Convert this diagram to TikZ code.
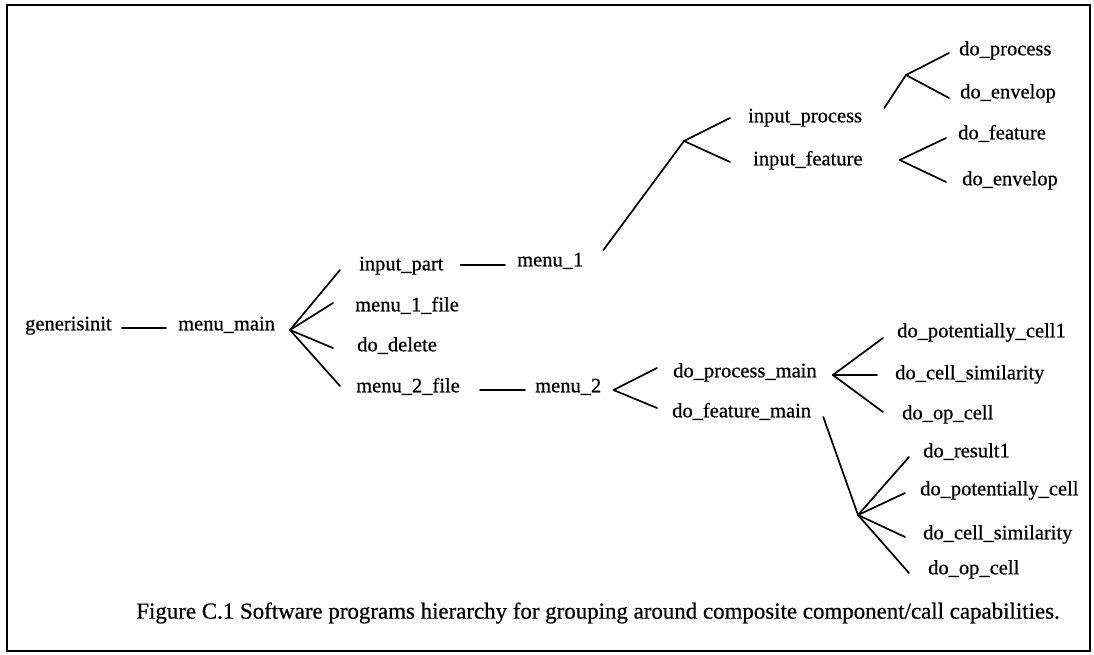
\documentclass[tikz,border=0pt]{standalone}
\usepackage{fontspec}
\setmainfont{Liberation Serif}
\newfontfamily\scanfont[FakeBold=0.6]{Liberation Serif}
\usepackage{tikz}
\usetikzlibrary{positioning}

\begin{document}
\begin{tikzpicture}[
    x=1pt, y=-1pt,
    prog/.style={anchor=west, inner sep=0pt, font=\scanfont\fontsize{20.5}{22}\selectfont,
        text height=0.68em, text depth=0.22em},
    link/.style={line width=1.7pt, line cap=round},
    caption/.style={font=\scanfont\fontsize{22.9}{25}\selectfont, inner sep=0pt}
]
    \useasboundingbox (0,0) rectangle (1094,654);
    \draw[line width=1.7pt] (7,5) rectangle (1090,651);

    % top level
    \node[prog] (generisinit) at (25,328) {generisinit};
    \node[prog] (menumain) at (178,328) {menu\_main};

    \node[prog] (inputpart) at (359,268) {input\_part};
    \node[prog] (menu1file) at (355,309) {menu\_1\_file};
    \node[prog] (dodelete) at (357,349) {do\_delete};
    \node[prog] (menu2file) at (356,390) {menu\_2\_file};

    \node[prog] (menu1) at (517,264) {menu\_1};
    \node[prog] (menu2) at (535,390) {menu\_2};

    % menu_1 branch
    \node[prog] (inputprocess) at (748,120) {input\_process};
    \node[prog] (inputfeature) at (753,163) {input\_feature};
    \node[prog] (doprocess) at (959,53) {do\_process};
    \node[prog] (doenvelopA) at (960,96) {do\_envelop};
    \node[prog] (dofeature) at (958,137) {do\_feature};
    \node[prog] (doenvelopB) at (962,183) {do\_envelop};

    % menu_2 branch
    \node[prog] (doprocessmain) at (673,375) {do\_process\_main};
    \node[prog] (dofeaturemain) at (672,415) {do\_feature\_main};
    \node[prog] (dopotcellA) at (897,335) {do\_potentially\_cell1};
    \node[prog] (docellsimA) at (895,377) {do\_cell\_similarity};
    \node[prog] (doopcellA) at (902,417) {do\_op\_cell};
    \node[prog] (doresult) at (923,455) {do\_result1};
    \node[prog] (dopotcellB) at (920,493) {do\_potentially\_cell};
    \node[prog] (docellsimB) at (923,537) {do\_cell\_similarity};
    \node[prog] (doopcellB) at (928,572) {do\_op\_cell};

    \node[caption] (figcaption) at (598,613)
        {Figure C.1 Software programs hierarchy for grouping around composite component/call capabilities.};

    % fork points
    \coordinate (forkmain) at (290,330);
    \coordinate (forkone) at (684,141);
    \coordinate (forkproc) at (906,75);
    \coordinate (forkfeat) at ([shift={(37,-3)}]inputfeature.east);
    \coordinate (forktwo) at ([xshift=12pt]menu2.east);
    \coordinate (forkpm) at ([xshift=16pt]doprocessmain.east);
    \coordinate (forkfm) at (858,515);

    \draw[link] ([xshift=10pt]generisinit.east) -- ([xshift=-12pt]menumain.west);
    \draw[link] (forkmain) -- ([shift={(-19,2)}]inputpart.west);
    \draw[link] (forkmain) -- ([shift={(-22,-6)}]menu1file.west);
    \draw[link] (forkmain) -- ([shift={(-24,-1)}]dodelete.west);
    \draw[link] (forkmain) -- ([shift={(-16,-4)}]menu2file.west);

    \draw[link] ([shift={(17,-3)}]inputpart.east) -- ([shift={(-12,1)}]menu1.west);
    \draw[link] ([shift={(20,-14)}]menu1.east) -- (forkone);
    \draw[link] (forkone) -- ([shift={(-18,-2)}]inputprocess.west);
    \draw[link] (forkone) -- ([shift={(-23,-1)}]inputfeature.west);
    \draw[link] ([shift={(22,-12)}]inputprocess.east) -- (forkproc);
    \draw[link] (forkproc) -- ([xshift=-10pt]doprocess.west);
    \draw[link] (forkproc) -- ([shift={(-11,2)}]doenvelopA.west);
    \draw[link] (forkfeat) -- ([shift={(-12,1)}]dofeature.west);
    \draw[link] (forkfeat) -- ([shift={(-16,-1)}]doenvelopB.west);

    \draw[link] ([xshift=20pt]menu2file.east) -- ([xshift=-10pt]menu2.west);
    \draw[link] (forktwo) -- ([shift={(-16,-7)}]doprocessmain.west);
    \draw[link] (forktwo) -- ([shift={(-15,-7)}]dofeaturemain.west);
    \draw[link] (forkpm) -- ([shift={(-14,3)}]dopotcellA.west);
    \draw[link] (forkpm) -- ([shift={(-18,-2)}]docellsimA.west);
    \draw[link] (forkpm) -- ([shift={(-19,-5)}]doopcellA.west);
    \draw[link] ([shift={(12,2)}]dofeaturemain.east) -- (forkfm);
    \draw[link] (forkfm) -- ([shift={(-14,2)}]doresult.west);
    \draw[link] (forkfm) -- ([xshift=-15pt]dopotcellB.west);
    \draw[link] (forkfm) -- ([xshift=-18pt]docellsimB.west);
    \draw[link] (forkfm) -- ([shift={(-19,1)}]doopcellB.west);
\end{tikzpicture}
\end{document}
